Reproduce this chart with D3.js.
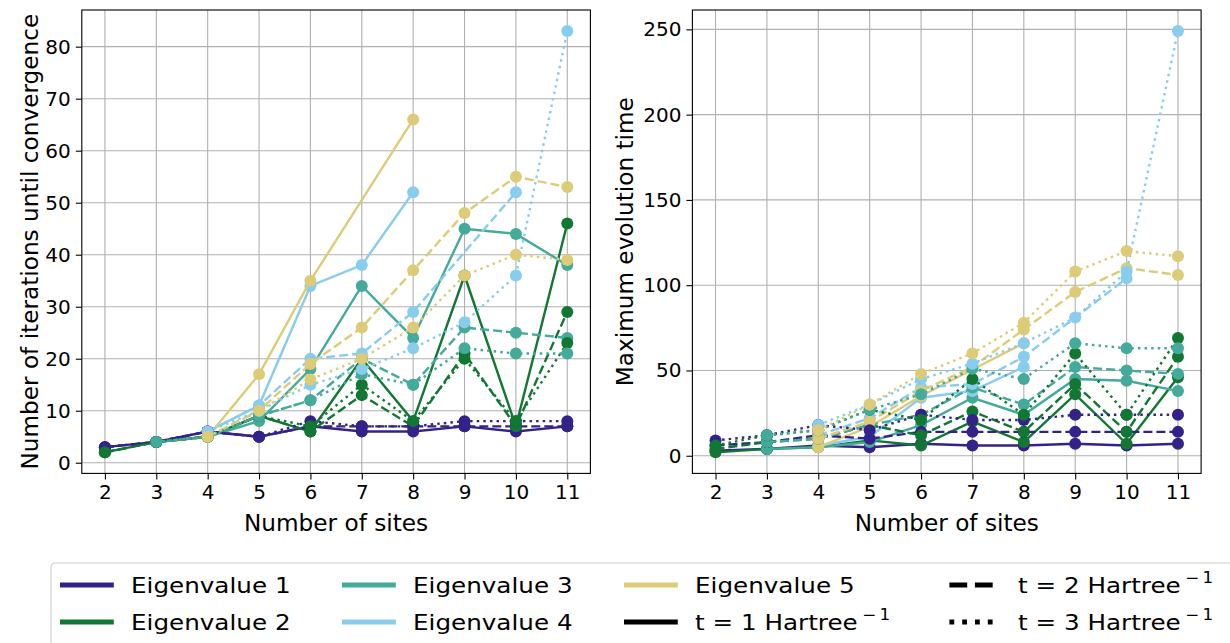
<!DOCTYPE html>
<html>
<head>
<meta charset="utf-8">
<script src="https://cdn.jsdelivr.net/npm/d3@7"></script>
<style>
  body { margin: 0; background: #fff; }
  svg { display: block; font-family: "DejaVu Sans", sans-serif; }
</style>
</head>
<body>
<svg id="chart" width="1230" height="643"></svg>
<script>
const sites = [2, 3, 4, 5, 6, 7, 8, 9, 10, 11];
const eigenNames = ['Eigenvalue 1', 'Eigenvalue 2', 'Eigenvalue 3', 'Eigenvalue 4', 'Eigenvalue 5'];
const eigenColors = ['#332288', '#117733', '#44AA99', '#88CCEE', '#DDCC77'];
const timeSteps = [1, 2, 3];
const yTicksIter = [0, 10, 20, 30, 40, 50, 60, 70, 80];
const yTicksTime = [0, 50, 100, 150, 200, 250];

// iterations until convergence, one row per t = 1, 2, 3 (null = no point)
const iterEig1 = [
    [3, 4, 6, 5, 7, 6, 6, 7, 6, 7],
    [3, 4, 6, 5, 7, 7, 7, 7, 7, 7],
    [3, 4, 6, 5, 8, 7, 7, 8, 8, 8]];
const iterEig2 = [
    [2, 4, 5, 9, 6, 20, 8, 36, 7, 46],
    [2, 4, 5, 9, 6, 13, 7, 21, 7, 29],
    [2, 4, 5, 9, 7, 15, 8, 20, 8, 23]];
const iterEig3 = [
    [null, 4, 5, 8, 18, 34, 24, 45, 44, 38],
    [null, 4, 5, 9, 12, 20, 15, 26, 25, 24],
    [null, 4, 5, 9, 12, 17, 15, 22, 21, 21]];
const iterEig4 = [
    [null, null, 6, 11, 34, 38, 52, null, null, null],
    [null, null, 6, 11, 20, 21, 29, null, 52, null],
    [null, null, 6, 10, 15, 18, 22, 27, 36, 83]];
const iterEig5 = [
    [null, null, 5, 17, 35, null, 66, null, null, null],
    [null, null, 5, 10, 19, 26, 37, 48, 55, 53],
    [null, null, 5, 10, 16, 20, 26, 36, 40, 39]];

// maximum evolution time, one row per t = 1, 2, 3
const timeEig1 = [
    [3, 4, 6, 5, 7, 6, 6, 7, 6, 7],
    [6, 8, 12, 10, 14, 14, 14, 14, 14, 14],
    [9, 12, 18, 15, 24, 21, 21, 24, 24, 24]];
const timeEig2 = [
    [2, 4, 5, 9, 6, 20, 8, 36, 7, 46],
    [4, 8, 10, 18, 12, 26, 14, 42, 14, 58],
    [6, 12, 15, 27, 21, 45, 24, 60, 24, 69]];
const timeEig3 = [
    [null, 4, 5, 8, 18, 34, 24, 45, 44, 38],
    [null, 8, 10, 18, 24, 40, 30, 52, 50, 48],
    [null, 12, 15, 27, 36, 51, 45, 66, 63, 63]];
const timeEig4 = [
    [null, null, 6, 11, 34, 38, 52, null, null, null],
    [null, null, 12, 22, 40, 42, 58, null, 104, null],
    [null, null, 18, 30, 45, 54, 66, 81, 108, 249]];
const timeEig5 = [
    [null, null, 5, 17, 35, null, 66, null, null, null],
    [null, null, 10, 20, 38, 52, 74, 96, 110, 106],
    [null, null, 15, 30, 48, 60, 78, 108, 120, 117]];

const iterData = [iterEig1, iterEig2, iterEig3, iterEig4, iterEig5];
const timeData = [timeEig1, timeEig2, timeEig3, timeEig4, timeEig5];

const dashes = ['none', '9,4', '2.5,4.1'];
const lineW = 2.4;
const axTop = 10, axBottom = 473.4;

const svg = d3.select('#chart');

// matplotlib-like 5% margins
const padded = (lo, hi) => { const p = (hi - lo) * 0.05; return [lo - p, hi + p]; };

const drawPanel = (left, right, data, yTicks, label, labelX) => {
    const all = data.flat(2).filter(v => v != null);
    const x = d3.scaleLinear().domain(padded(d3.min(sites), d3.max(sites))).range([left, right]);
    const y = d3.scaleLinear().domain(padded(d3.min(all), d3.max(all))).range([axBottom, axTop]);
    const g = svg.append('g');

    // grid
    g.append('g').selectAll('line').data(sites).join('line')
        .attr('x1', d => x(d)).attr('x2', d => x(d)).attr('y1', axTop).attr('y2', axBottom)
        .attr('stroke', '#b0b0b0').attr('stroke-width', 1.1);
    g.append('g').selectAll('line').data(yTicks).join('line')
        .attr('x1', left).attr('x2', right).attr('y1', d => y(d)).attr('y2', d => y(d))
        .attr('stroke', '#b0b0b0').attr('stroke-width', 1.1);

    // series: t outer, eigenvalue inner (draw order)
    const line = d3.line().x(d => x(d.s)).y(d => y(d.v));
    timeSteps.forEach((t, ti) => {
        data.forEach((eig, ei) => {
            const pts = sites.map((s, i) => ({ s, v: eig[ti][i] })).filter(d => d.v != null);
            const sg = g.append('g');
            sg.append('path').datum(pts)
                .attr('d', line)
                .attr('fill', 'none')
                .attr('stroke', eigenColors[ei])
                .attr('stroke-width', lineW)
                .attr('stroke-dasharray', dashes[ti]);
            sg.selectAll('circle').data(pts).join('circle')
                .attr('cx', d => x(d.s)).attr('cy', d => y(d.v)).attr('r', 6)
                .attr('fill', eigenColors[ei]);
        });
    });

    // axes
    const ax = g.append('g').attr('transform', `translate(0,${axBottom})`)
        .call(d3.axisBottom(x).tickValues(sites).tickSize(6).tickPadding(5));
    const ay = g.append('g').attr('transform', `translate(${left},0)`)
        .call(d3.axisLeft(y).tickValues(yTicks).tickSize(6).tickPadding(5));
    [ax, ay].forEach(a => {
        a.select('.domain').remove();
        a.selectAll('.tick line').attr('stroke', '#000').attr('stroke-width', 1.1);
        a.selectAll('.tick text').attr('fill', '#000')
            .style('font-size', '20px').style('font-family', '"DejaVu Sans", sans-serif');
    });

    g.append('rect').attr('x', left).attr('y', axTop)
        .attr('width', right - left).attr('height', axBottom - axTop)
        .attr('fill', 'none').attr('stroke', '#000').attr('stroke-width', 1.1);

    g.append('text').attr('x', (left + right) / 2).attr('y', 522)
        .attr('text-anchor', 'middle').attr('dominant-baseline', 'central')
        .style('font-size', '23.2px').text('Number of sites');
    g.append('text')
        .attr('transform', `translate(${labelX},${(axTop + axBottom) / 2}) rotate(-90)`)
        .attr('text-anchor', 'middle').attr('dominant-baseline', 'central')
        .style('font-size', '23.2px').text(label);
};

drawPanel(81.8, 590.4, iterData, yTicksIter, 'Number of iterations until convergence', 29);
drawPanel(692.4, 1201.1, timeData, yTicksTime, 'Maximum evolution time', 624);

/**********
 * Legend *
 **********/
const legendItems = [
    ...eigenNames.map((n, i) => ({ label: n, color: eigenColors[i], dash: 'none' })),
    ...timeSteps.map((t, i) => ({ label: `t = ${t} Hartree`, sup: true, color: '#000', dash: ['none', '17.8,7.7', '4.8,8'][i] }))
];
const textX = [131, 413, 695, 1018];
const rowY = [585, 622];
const handleLen = 49;

const lg = svg.append('g');
lg.append('rect').attr('x', 51).attr('y', 563).attr('width', 1184).attr('height', 86)
    .attr('rx', 4).attr('fill', '#fff').attr('fill-opacity', 0.8)
    .attr('stroke', '#cccccc').attr('stroke-width', 1.1);

legendItems.forEach((d, i) => {
    const tx = textX[Math.floor(i / 2)], cy = rowY[i % 2];
    const hx = tx - 19.6 - handleLen;
    lg.append('line').attr('x1', hx).attr('x2', hx + handleLen).attr('y1', cy).attr('y2', cy)
        .attr('stroke', d.color).attr('stroke-width', 4.8)
        .attr('stroke-linecap', d.dash === 'none' ? 'square' : 'butt')
        .attr('stroke-dasharray', d.dash);
    const txt = lg.append('text').attr('transform', `translate(${tx},${cy}) scale(1.12,1)`)
        .attr('dominant-baseline', 'central').style('font-size', '22px').text(d.label);
    if (d.sup) {
        txt.append('tspan').attr('dx', 4).attr('dy', -8).style('font-size', '15px').text('\u2212\u20091');
    }
});
</script>
</body>
</html>
